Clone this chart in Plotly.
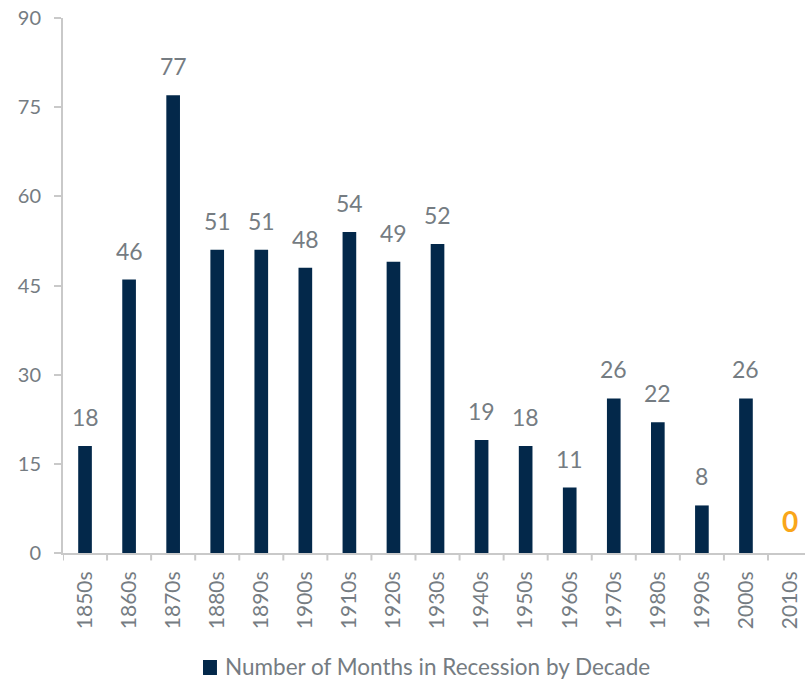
import plotly.graph_objects as go

decades = ["1850s", "1860s", "1870s", "1880s", "1890s", "1900s", "1910s", "1920s", "1930s",
           "1940s", "1950s", "1960s", "1970s", "1980s", "1990s", "2000s", "2010s"]
months = [18, 46, 77, 51, 51, 48, 54, 49, 52, 19, 18, 11, 26, 22, 8, 26, 0]
y_ticks = [0, 15, 30, 45, 60, 75, 90]
series_name = "Number of Months in Recession by Decade"

BAR = "#03284a"
GRAY = "#757c82"
AXIS = "#c9c9c9"
ORANGE = "#f9a61a"
FONT = "Source Sans Pro, Lato, Open Sans, sans-serif"

fig = go.Figure()
fig.add_trace(go.Bar(
    x=list(range(len(decades))), y=months,
    marker=dict(color=BAR, line=dict(width=0)),
    width=0.31,
    name=series_name,
    showlegend=False,
))

for i, v in enumerate(months):
    last = (i == len(months) - 1)
    fig.add_annotation(
        x=i, y=v, text=("<b>%d</b>" % v) if last else str(v),
        showarrow=False, yanchor="bottom",
        yshift=13,
        font=dict(family=FONT, size=28 if last else 23, color=ORANGE if last else GRAY),
    )

# legend (square swatch + label) below the chart
fig.add_shape(type="rect", xref="paper", yref="paper",
              x0=0.1887, x1=0.2075, y0=-0.228, y1=-0.2,
              fillcolor=BAR, line=dict(width=0))
fig.add_annotation(xref="paper", yref="paper", x=0.2156, y=-0.213,
                   xanchor="left", yanchor="middle", showarrow=False,
                   text=series_name,
                   font=dict(family=FONT, size=22.5, color=GRAY))

fig.update_layout(
    width=805, height=681,
    margin=dict(l=63, r=0, t=18, b=128),
    plot_bgcolor="white", paper_bgcolor="white",
    font=dict(family=FONT, color=GRAY),
    bargap=0.69,
    showlegend=False,
    xaxis=dict(
        range=[-0.5, 16.34], tickmode="array",
        tickvals=list(range(len(decades))), ticktext=decades,
        tickangle=-90, tickfont=dict(family=FONT, size=21, color=GRAY),
        showline=True, linecolor=AXIS, linewidth=2,
        showgrid=False, zeroline=False, ticks="", ticklabelstandoff=8,
        automargin=False,
    ),
    yaxis=dict(
        range=[0, 90], tickmode="array", tickvals=y_ticks,
        tickfont=dict(family=FONT, size=20, color=GRAY),
        showline=True, linecolor=AXIS, linewidth=2,
        ticks="outside", ticklen=7, tickcolor=AXIS, tickwidth=2,
        showgrid=False, zeroline=False, automargin=False, ticklabelstandoff=9,
    ),
)

# category boundary ticks on x axis
for k in range(len(decades) + 1):
    fig.add_shape(type="line", xref="x", yref="paper",
                  x0=k - 0.5, x1=k - 0.5, y0=0, y1=-0.014,
                  line=dict(color=AXIS, width=2))

fig.write_html("out.html", config={"displayModeBar": False},
               post_script="document.body.style.margin='0';document.body.style.overflow='hidden';")
